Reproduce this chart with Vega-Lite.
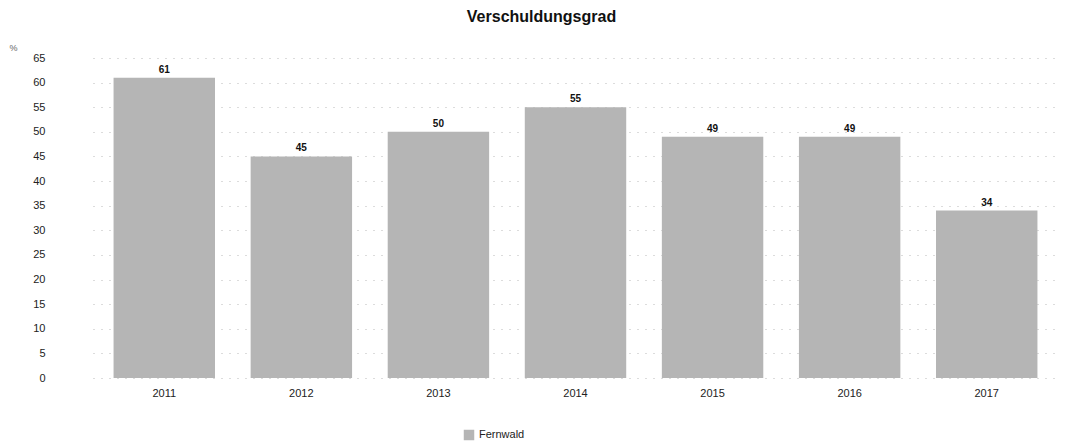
{
  "$schema": "https://vega.github.io/schema/vega-lite/v6.json",
  "autosize": {"type": "none"},
  "width": 965,
  "height": 320,
  "padding": {"left": 93, "top": 58, "right": 30, "bottom": 65},
  "background": "white",
  "title": {
    "text": "Verschuldungsgrad",
    "font": "Liberation Sans",
    "fontSize": 16,
    "fontWeight": "bold",
    "color": "#111111",
    "anchor": "middle",
    "dx": -34,
    "offset": 18
  },
  "data": {
    "values": [
      {"Jahr": "2011", "Wert": 61, "Serie": "Fernwald"},
      {"Jahr": "2012", "Wert": 45, "Serie": "Fernwald"},
      {"Jahr": "2013", "Wert": 50, "Serie": "Fernwald"},
      {"Jahr": "2014", "Wert": 55, "Serie": "Fernwald"},
      {"Jahr": "2015", "Wert": 49, "Serie": "Fernwald"},
      {"Jahr": "2016", "Wert": 49, "Serie": "Fernwald"},
      {"Jahr": "2017", "Wert": 34, "Serie": "Fernwald"}
    ]
  },
  "encoding": {
    "x": {
      "field": "Jahr",
      "type": "ordinal",
      "scale": {"paddingInner": 0.26, "paddingOuter": 0.15},
      "axis": {
        "title": null,
        "labelAngle": 0,
        "domain": false,
        "ticks": false,
        "labelPadding": 9,
        "labelFont": "Liberation Sans",
        "labelFontSize": 11,
        "labelColor": "#222222"
      }
    },
    "y": {
      "field": "Wert",
      "type": "quantitative",
      "scale": {"domain": [0, 65], "nice": false},
      "axis": {
        "values": [0, 5, 10, 15, 20, 25, 30, 35, 40, 45, 50, 55, 60, 65],
        "title": "%",
        "titleAngle": 0,
        "titleX": -80,
        "titleY": -6,
        "titleFont": "Liberation Sans",
        "titleFontSize": 9,
        "titleFontWeight": "normal",
        "titleColor": "#666666",
        "domain": false,
        "ticks": false,
        "labelPadding": 48,
        "labelFont": "Liberation Sans",
        "labelFontSize": 11,
        "labelColor": "#222222",
        "grid": true,
        "gridColor": "#b8b8b8",
        "gridDash": [1, 7],
        "gridWidth": 1
      }
    }
  },
  "layer": [
    {
      "mark": {"type": "bar", "stroke": null},
      "encoding": {
        "color": {
          "field": "Serie",
          "type": "nominal",
          "scale": {"range": ["#b5b5b5"]},
          "legend": {
            "title": null,
            "orient": "none",
            "legendX": 370,
            "legendY": 371,
            "symbolType": "square",
            "symbolSize": 110,
            "labelFont": "Liberation Sans",
            "labelFontSize": 11,
            "labelColor": "#222222"
          }
        }
      }
    },
    {
      "mark": {
        "type": "text",
        "dy": -8,
        "font": "Liberation Sans",
        "fontSize": 10,
        "fontWeight": "bold",
        "color": "#111111"
      },
      "encoding": {
        "text": {"field": "Wert", "type": "quantitative"}
      }
    }
  ],
  "config": {"view": {"stroke": null}}
}
